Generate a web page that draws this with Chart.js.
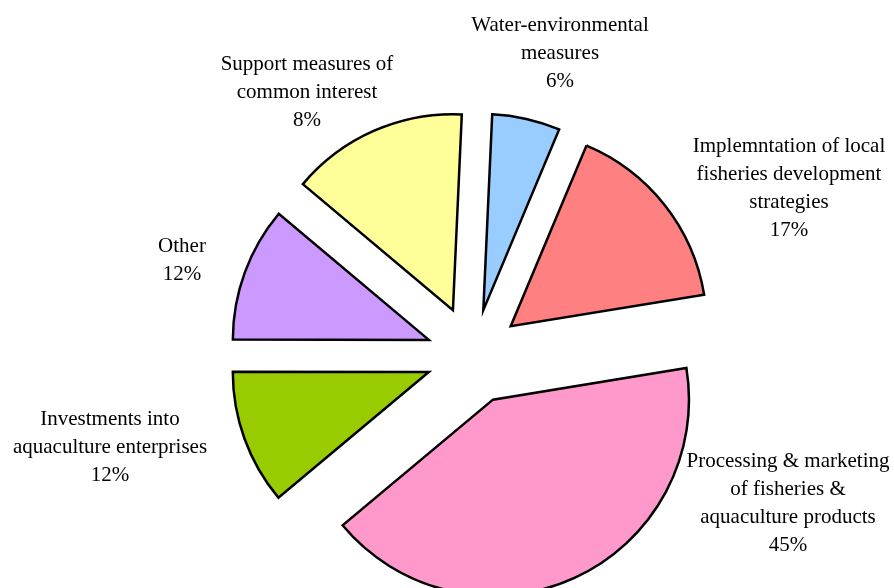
<!DOCTYPE html>
<html>
<head>
<meta charset="utf-8">
<script src="https://cdn.jsdelivr.net/npm/chart.js@4.4.1/dist/chart.umd.min.js"></script>
<style>
  html, body { margin: 0; padding: 0; background: #fff; }
  #wrap { width: 894px; height: 588px; }
</style>
</head>
<body>
<div id="wrap"><canvas id="pie"></canvas></div>
<script>
// slice names, as multi-line labels
const categories = [
    ['Water-environmental', 'measures'],
    ['Implemntation of local', 'fisheries development', 'strategies'],
    ['Processing & marketing', 'of fisheries &', 'aquaculture products'],
    ['Investments into', 'aquaculture enterprises'],
    ['Other'],
    ['Support measures of', 'common interest']
]
// slice sizes as drawn in the picture (share of the circle, %)
const sliceValues = [5.6, 16.1, 41.5, 11.1, 11.1, 14.6]
// percentages printed on the labels
const pctLabels = ['6%', '17%', '45%', '12%', '12%', '8%']

const sliceColors = ['#99CCFF', '#FF8080', '#FF99CC', '#99CC00', '#CC99FF', '#FFFF99']

// how far every slice is pulled out of the pie (px)
const explode = [47, 48, 48, 47, 47, 50]

// label text centres, relative to the pie centre
const labelPos = [[87, -303], [316, -168], [315, 147], [-363, 91], [-291, -96], [-166, -264]]

// chart.js "offset" also grows the radius, so move the arcs ourselves
const explodedPie = {
    id: 'explodedPie',
    beforeDatasetsDraw(chart) {
        const ctx = chart.ctx
        const arcs = chart.getDatasetMeta(0).data
        arcs.forEach((arc, i) => {
            const mid = (arc.startAngle + arc.endAngle) / 2
            ctx.save()
            ctx.translate(Math.cos(mid) * explode[i], Math.sin(mid) * explode[i])
            arc.draw(ctx)
            ctx.restore()
        })
        return false
    }
}

const pieLabels = {
    id: 'pieLabels',
    afterDraw(chart) {
        const ctx = chart.ctx
        const arcs = chart.getDatasetMeta(0).data
        const lineH = 28
        ctx.save()
        ctx.font = '21px "Liberation Serif", "Times New Roman", serif'
        ctx.fillStyle = '#000'
        ctx.textAlign = 'center'
        ctx.textBaseline = 'middle'
        arcs.forEach((arc, i) => {
            const lines = categories[i].concat([pctLabels[i]])
            const cx = arc.x + labelPos[i][0]
            const cy = arc.y + labelPos[i][1]
            const top = cy - (lines.length - 1) * lineH / 2
            lines.forEach((t, j) => ctx.fillText(t, cx, top + j * lineH))
        })
        ctx.restore()
    }
}

new Chart(document.getElementById('pie'), {
    type: 'pie',
    data: {
        labels: categories.map(c => c.join(' ')),
        datasets: [{
            data: sliceValues,
            backgroundColor: sliceColors,
            borderColor: '#000',
            borderWidth: 2.5,
            borderJoinStyle: 'miter',
            clip: false
        }]
    },
    options: {
        responsive: true,
        maintainAspectRatio: false,
        animation: false,
        rotation: 2.6,
        radius: 196,
        layout: { padding: { left: 52, right: 0, top: 124, bottom: 0 } },
        plugins: {
            legend: { display: false },
            tooltip: { enabled: false }
        }
    },
    plugins: [explodedPie, pieLabels]
})
</script>
</body>
</html>
